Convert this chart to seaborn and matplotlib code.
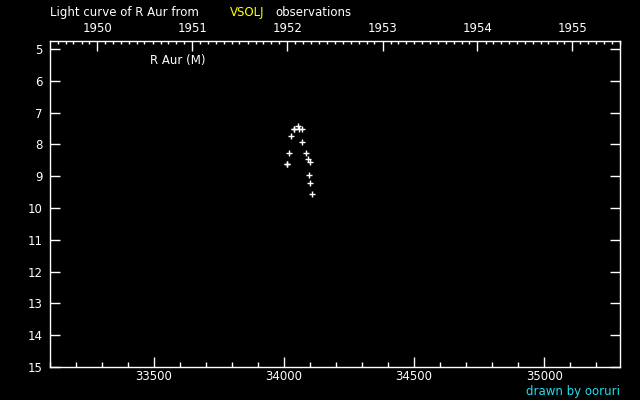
import pandas as pd
import numpy as np
import matplotlib
matplotlib.use("Agg")
import matplotlib.pyplot as plt
from matplotlib.ticker import MultipleLocator, FixedLocator, NullFormatter
import seaborn as sns

# observations of R Aur (JD - 2400000, visual magnitude)
jd = [34055, 34037, 34039, 34059, 34070, 34028, 34070, 34020, 34086,
      34093, 34101, 34011, 34013, 34097, 34101, 34109]
mag = [7.43, 7.53, 7.53, 7.53, 7.53, 7.75, 7.94, 8.26, 8.26,
       8.45, 8.54, 8.63, 8.63, 8.95, 9.23, 9.55]
years = [1950, 1951, 1952, 1953, 1954, 1955]

df = pd.DataFrame({"jd": jd, "mag": mag})

sns.set_theme(style="dark")
plt.rcParams["font.family"] = ["DejaVu Sans"]
plt.rcParams["text.color"] = "white"

fig = plt.figure(figsize=(6.4, 4), dpi=100, facecolor="black")
ax = fig.add_axes([0.078, 0.0825, 0.891, 0.815], facecolor="black")

sns.scatterplot(data=df, x="jd", y="mag", marker="+", color="white",
                s=16, linewidth=1.0, ax=ax, legend=False)

ax.set_xlim(33100, 35292)
ax.set_ylim(15, 4.75)
ax.grid(False)
ax.set_xlabel("")
ax.set_ylabel("")

for sp in ax.spines.values():
    sp.set_color("white")
    sp.set_linewidth(1)

ax.xaxis.set_major_locator(MultipleLocator(500))
ax.xaxis.set_minor_locator(MultipleLocator(100))
ax.yaxis.set_major_locator(MultipleLocator(1))
ax.tick_params(axis="x", which="both", direction="in", colors="white",
               top=False, bottom=True, labelsize=8.5, pad=2.5)
ax.tick_params(axis="x", which="major", length=7, width=1)
ax.tick_params(axis="x", which="minor", length=3.5, width=1)
ax.tick_params(axis="y", which="major", direction="in", colors="white",
               left=True, right=True, length=7, width=1, labelsize=8.5, pad=5)

# year axis on top
ax2 = ax.twiny()
ax2.set_xlim(ax.get_xlim())
year_jd = [pd.Timestamp(f"{y}-01-01").to_julian_date() - 2400000 for y in years]
months = pd.date_range("1949-01-01", "1956-01-01", freq="MS")
month_jd = [m.to_julian_date() - 2400000 for m in months]
ax2.xaxis.set_major_locator(FixedLocator(year_jd))
ax2.set_xticklabels([str(y) for y in years])
ax2.xaxis.set_minor_locator(FixedLocator(month_jd))
ax2.xaxis.set_minor_formatter(NullFormatter())
ax2.tick_params(axis="x", which="both", direction="in", colors="white",
                labelsize=8.5, pad=4)
ax2.tick_params(axis="x", which="major", length=7, width=1)
ax2.tick_params(axis="x", which="minor", length=2.5, width=1)
ax2.grid(False)
for sp in ax2.spines.values():
    sp.set_visible(False)

ax.text(0.175, 0.94, "R Aur (M)", transform=ax.transAxes, color="white",
        fontsize=8.5, va="center", ha="left")

fig.text(0.078, 0.968, "Light curve of R Aur from", color="white",
         fontsize=8.5, va="center", ha="left")
fig.text(0.359, 0.968, "VSOLJ", color="#ffff00", fontsize=8.5,
         va="center", ha="left")
fig.text(0.43, 0.968, "observations", color="white", fontsize=8.5,
         va="center", ha="left")
fig.text(0.969, 0.021, "drawn by ooruri", color="#22ddee", fontsize=8.5,
         va="center", ha="right")

fig.savefig("out.png", dpi=100, facecolor="black")
